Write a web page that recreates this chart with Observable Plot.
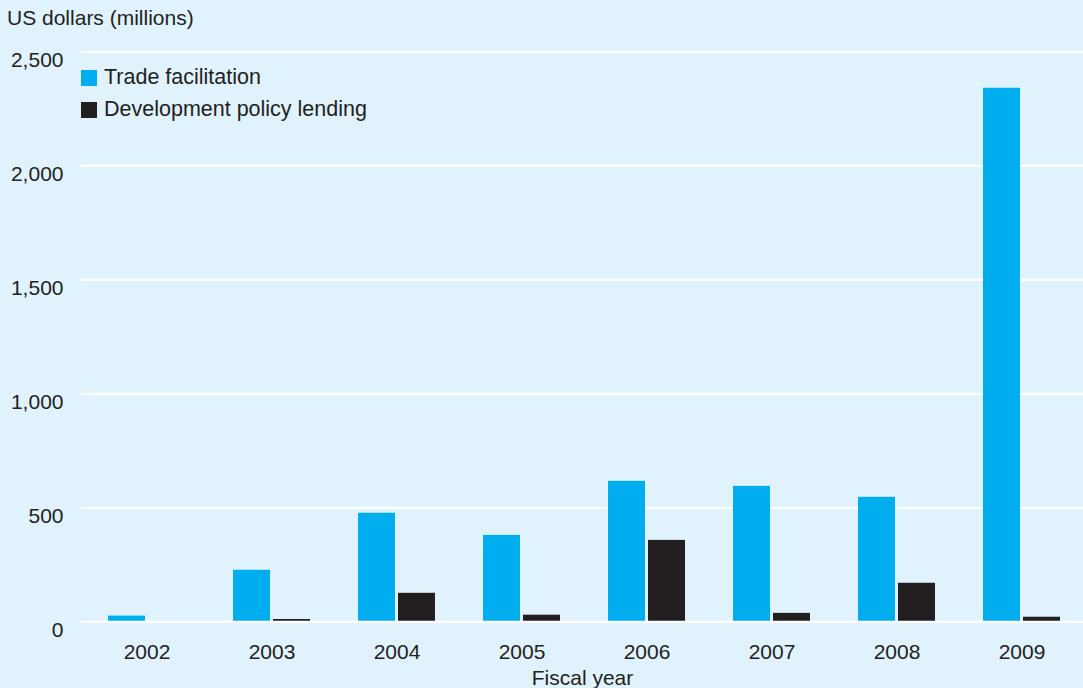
<!DOCTYPE html>
<html>
<head>
<meta charset="utf-8">
<script src="https://cdn.jsdelivr.net/npm/d3@7"></script>
<script src="https://cdn.jsdelivr.net/npm/@observablehq/plot@0.6"></script>
<style>
  html, body { margin: 0; padding: 0; background: #e0f2fc; }
  #wrap { position: relative; width: 1083px; height: 688px; background: #e0f2fc; overflow: hidden;
          font-family: "Liberation Sans", Arial, Helvetica, sans-serif; color: #231f20; }
  #title { position: absolute; left: 7px; top: 6px; font-size: 21px; white-space: nowrap; }
  .leg { position: absolute; left: 81px; font-size: 21.5px; display: flex; align-items: center; white-space: nowrap; }
  .sw { width: 16px; height: 16px; margin-right: 7px; }
  svg { position: absolute; left: 0; top: 0; }
</style>
</head>
<body>
<div id="wrap">
  <div id="title">US dollars (millions)</div>
  <div class="leg" style="top:65px"><div class="sw" style="background:#00aeef"></div>Trade facilitation</div>
  <div class="leg" style="top:97px"><div class="sw" style="background:#231f20"></div>Development policy lending</div>
</div>
<script>
const years = ["2002","2003","2004","2005","2006","2007","2008","2009"];
const tradeFacilitation = [25, 226, 476, 379, 616, 594, 546, 2340];
const developmentPolicyLending = [0, 10, 125, 29, 357, 37, 169, 20];
const yTicks = [0, 500, 1000, 1500, 2000, 2500];

const trade = years.map((y, i) => ({year: y, value: tradeFacilitation[i]}));
const dpl = years.map((y, i) => ({year: y, value: developmentPolicyLending[i]}));

const chart = Plot.plot({
  width: 1083,
  height: 688,
  marginLeft: 81,
  marginRight: 0,
  marginTop: 51.3,
  marginBottom: 66.7,
  style: {background: "transparent", fontFamily: "'Liberation Sans', Arial, Helvetica, sans-serif", fontSize: "21px", color: "#231f20"},
  x: {domain: years, range: [81, 1087], paddingInner: 0.385, paddingOuter: 0.1925, label: null, tickSize: 0, tickPadding: 22},
  y: {domain: [0, 2500], ticks: yTicks, tickFormat: d3.format(","), label: null, tickSize: 0, tickPadding: 18},
  marks: [
    Plot.ruleY(yTicks, {stroke: "white", strokeWidth: 2.2}),
    Plot.barY(trade, {x: "year", y: "value", fill: "#00aeef", insetRight: 40}),
    Plot.barY(dpl, {x: "year", y: "value", fill: "#231f20", insetLeft: 40}),
    Plot.ruleY([0], {stroke: "white", strokeWidth: 2.2}),
    Plot.axisY({ticks: yTicks, tickFormat: d3.format(","), tickSize: 0, tickPadding: 18, dy: 8, label: null, fill: "#231f20"}),
    Plot.axisX({tickSize: 0, tickPadding: 22, label: null, fill: "#231f20"}),
    Plot.text(["Fiscal year"], {frameAnchor: "bottom", lineAnchor: "bottom", dy: 63, fill: "#231f20", fontSize: 21})
  ]
});
document.getElementById("wrap").appendChild(chart);
</script>
</body>
</html>
